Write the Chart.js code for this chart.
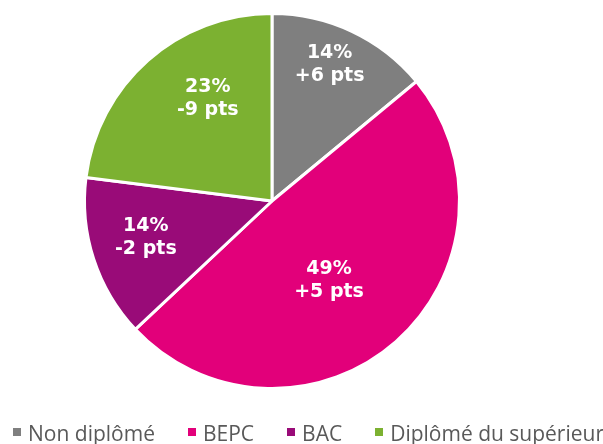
<!DOCTYPE html>
<html lang="fr">
<head>
<meta charset="utf-8">
<script src="https://cdn.jsdelivr.net/npm/chart.js@4/dist/chart.umd.min.js"></script>
<style>
  html, body { margin: 0; padding: 0; background: #fff; }
  #wrap { position: relative; width: 603px; height: 444px; }
  #pie { position: absolute; left: 0; top: 0; }
  #legend {
    position: absolute; left: 13px; top: 423px; height: 21px;
    display: flex; align-items: flex-start;
    font-family: "Open Sans", sans-serif; font-size: 21px; line-height: 21px;
    color: #595959; white-space: nowrap;
  }
  #legend .item { display: flex; align-items: flex-start; margin-right: 33px; }
  #legend .box { width: 8px; height: 8px; margin-top: 5px; margin-right: 7px; }
</style>
</head>
<body>
<div id="wrap">
  <canvas id="pie" width="603" height="444"></canvas>
  <div id="legend"></div>
</div>
<script>
// Répartition par niveau de diplôme (%) et évolution (points)
const categories = ["Non diplômé", "BEPC", "BAC", "Diplômé du supérieur"];
const shares = [14, 49, 14, 23];
const changes = ["+6 pts", "+5 pts", "-2 pts", "-9 pts"];
const colors = ["#7F7F7F", "#E2007A", "#990B78", "#7CB131"];

// Label anchor per slice: fraction of the radius, and an angular nudge (degrees)
const labelAnchor = [[0.79, -2.3], [0.52, 5.6], [0.70, 2.0], [0.645, 9.3]];

const sliceLabels = {
  id: "sliceLabels",
  afterDatasetsDraw(chart) {
    const ctx = chart.ctx;
    const meta = chart.getDatasetMeta(0);
    ctx.save();
    ctx.fillStyle = "#FFFFFF";
    ctx.font = "bold 19px 'DejaVu Sans', Verdana, sans-serif";
    ctx.textAlign = "center";
    ctx.textBaseline = "middle";
    meta.data.forEach((arc, i) => {
      const p = arc.getProps(["x", "y", "startAngle", "endAngle", "outerRadius"], true);
      const a = (p.startAngle + p.endAngle) / 2 + labelAnchor[i][1] * Math.PI / 180;
      const r = p.outerRadius * labelAnchor[i][0];
      const cx = p.x + Math.cos(a) * r;
      const cy = p.y + Math.sin(a) * r;
      ctx.fillText(shares[i] + "%", cx, cy - 11.5);
      ctx.fillText(changes[i], cx, cy + 11.5);
    });
    ctx.restore();
  }
};

new Chart(document.getElementById("pie"), {
  type: "pie",
  data: {
    labels: categories,
    datasets: [{
      data: shares,
      backgroundColor: colors,
      borderColor: "#FFFFFF",
      borderWidth: 3
    }]
  },
  options: {
    responsive: false,
    animation: false,
    layout: { padding: { top: 12, bottom: 54, left: 83, right: 142 } },
    plugins: {
      legend: { display: false },
      tooltip: { enabled: false }
    }
  },
  plugins: [sliceLabels]
});

// Legend row
const legend = document.getElementById("legend");
categories.forEach((name, i) => {
  const item = document.createElement("div");
  item.className = "item";
  const box = document.createElement("span");
  box.className = "box";
  box.style.background = colors[i];
  const txt = document.createElement("span");
  txt.textContent = name;
  item.appendChild(box);
  item.appendChild(txt);
  legend.appendChild(item);
});
</script>
</body>
</html>
